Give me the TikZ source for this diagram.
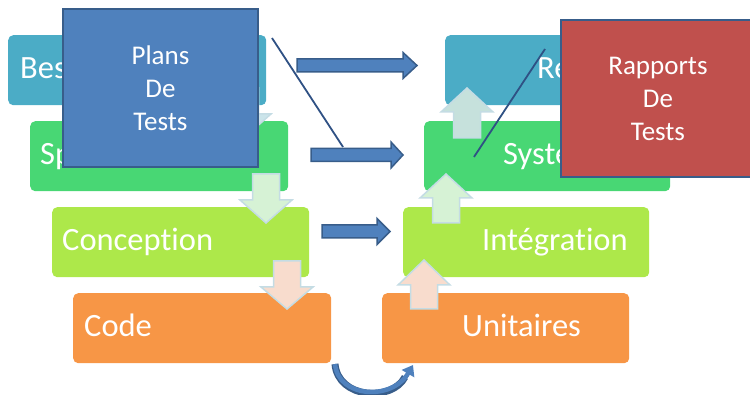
\documentclass[tikz,border=0pt]{standalone}
\usepackage{fontspec}
\setmainfont{Carlito}[Ligatures=CommonOff]
\usetikzlibrary{arrows.meta}
\definecolor{cBes}{HTML}{4BACC6}
\definecolor{cSpec}{HTML}{48D774}
\definecolor{cConc}{HTML}{ADE84A}
\definecolor{cCode}{HTML}{F79646}
\definecolor{cPlan}{HTML}{4F81BD}
\definecolor{cEdge}{HTML}{385D8A}
\definecolor{cRap}{HTML}{C0504D}
\definecolor{cLine}{HTML}{2F5184}
\definecolor{lBlue}{HTML}{CBE4EA}
\definecolor{lGreen}{HTML}{D6F2D5}
\definecolor{lPeach}{HTML}{F8DCCD}
\definecolor{lTeal}{HTML}{C6E1DC}
\definecolor{lEdge}{HTML}{C4DCE4}
\newcommand\vblock[5]{%
  \fill[fill=#5,draw=lEdge,line width=1.5pt] (#1-13.5,#2) -- (#1+13.5,#2) -- (#1+13.5,#3) -- (#1+26,#3) -- (#1,#4) -- (#1-26,#3) -- (#1-13.5,#3) -- cycle;}
\newcommand\hblock[4]{%
  \draw[blockarrow] (#1,#4-6.5) -- (#2,#4-6.5) -- (#2,#4-13) -- (#3,#4) -- (#2,#4+13) -- (#2,#4+6.5) -- (#1,#4+6.5) -- cycle;}
\begin{document}
\begin{tikzpicture}[x=1pt,y=-1pt,
  stage/.style={rounded corners=5pt, draw=none, inner sep=0pt, anchor=north west, minimum height=70pt},
  lbl/.style={anchor=base west, text=white, inner sep=0pt, font=\fontsize{32.5}{38}\selectfont},
  report/.style={draw=cEdge, line width=2pt, anchor=north west, inner sep=0pt, text=white, align=center, font=\fontsize{27}{33}\selectfont},
  blockarrow/.style={fill=cPlan, draw=cEdge, line width=1.5pt, line join=miter},
  diag/.style={draw=cLine, line width=1.8pt}]
\useasboundingbox (0,0) rectangle (750,395);
% stages
\node[stage, fill=cBes, minimum width=258pt] (bes) at (8,35) {};
\node[stage, fill=cSpec, minimum width=258pt] (spec) at (30,121) {};
\node[stage, fill=cConc, minimum width=257pt] (conc) at (52,207) {};
\node[stage, fill=cCode, minimum width=258pt] (code) at (73,293) {};
\node[stage, fill=cBes, minimum width=246pt] (rec) at (445,35) {};
\node[stage, fill=cSpec, minimum width=246pt] (sys) at (424,121) {};
\node[stage, fill=cConc, minimum width=246pt] (integ) at (403,207) {};
\node[stage, fill=cCode, minimum width=247pt] (unit) at (382,293) {};
% labels
\node[lbl] (tbes) at (20,79) {Besoins};
\node[lbl] (tspec) at (40,165) {Spécification};
\node[lbl] (tconc) at (62,251) {Conception};
\node[lbl] (tcode) at (84,337) {Code};
\node[lbl] (trec) at (537,79) {Recette};
\node[lbl] (tsys) at (503,165) {Système};
\node[lbl] (tinteg) at (482,251) {Intégration};
\node[lbl] (tunit) at (462,337) {Unitaires};
% light flow arrows
\vblock{245}{88}{114}{137}{lBlue}
\vblock{266}{174}{200}{223}{lGreen}
\vblock{287}{261}{287}{309}{lPeach}
\vblock{424}{309}{285}{260}{lPeach}
\vblock{446}{223}{198}{174}{lGreen}
\vblock{467}{138}{112}{88}{lTeal}
% documents
\node[report, fill=cPlan, minimum width=195pt, minimum height=158pt] (plans) at (62,8) {Plans\\De\\Tests};
\node[report, fill=cRap, minimum width=194pt, minimum height=157pt] (rap) at (560,19) {Rapports\\De\\Tests};
% block arrows
\hblock{297}{403}{417}{65.5}
\hblock{311}{391}{403}{155}
\hblock{322}{377}{390}{231.5}
% diagonal lines
\coordinate (d1a) at (272,38);
\coordinate (d1b) at (343,147);
\coordinate (d2a) at (474,157);
\coordinate (d2b) at (545,49);
\draw[diag] (d1a) -- (d1b);
\draw[diag] (d2a) -- (d2b);
% curved arrow
\coordinate (c1) at (335,364);
\coordinate (c2) at (413,365);
\draw[draw=cEdge, line width=7pt] (c1) .. controls (338,399) and (392,402) .. (405,377);
\draw[draw=cPlan, line width=4.5pt, -{Triangle[length=10pt,width=14pt]}] (c1) .. controls (338,398) and (392,401) .. (c2);
\end{tikzpicture}
\end{document}
